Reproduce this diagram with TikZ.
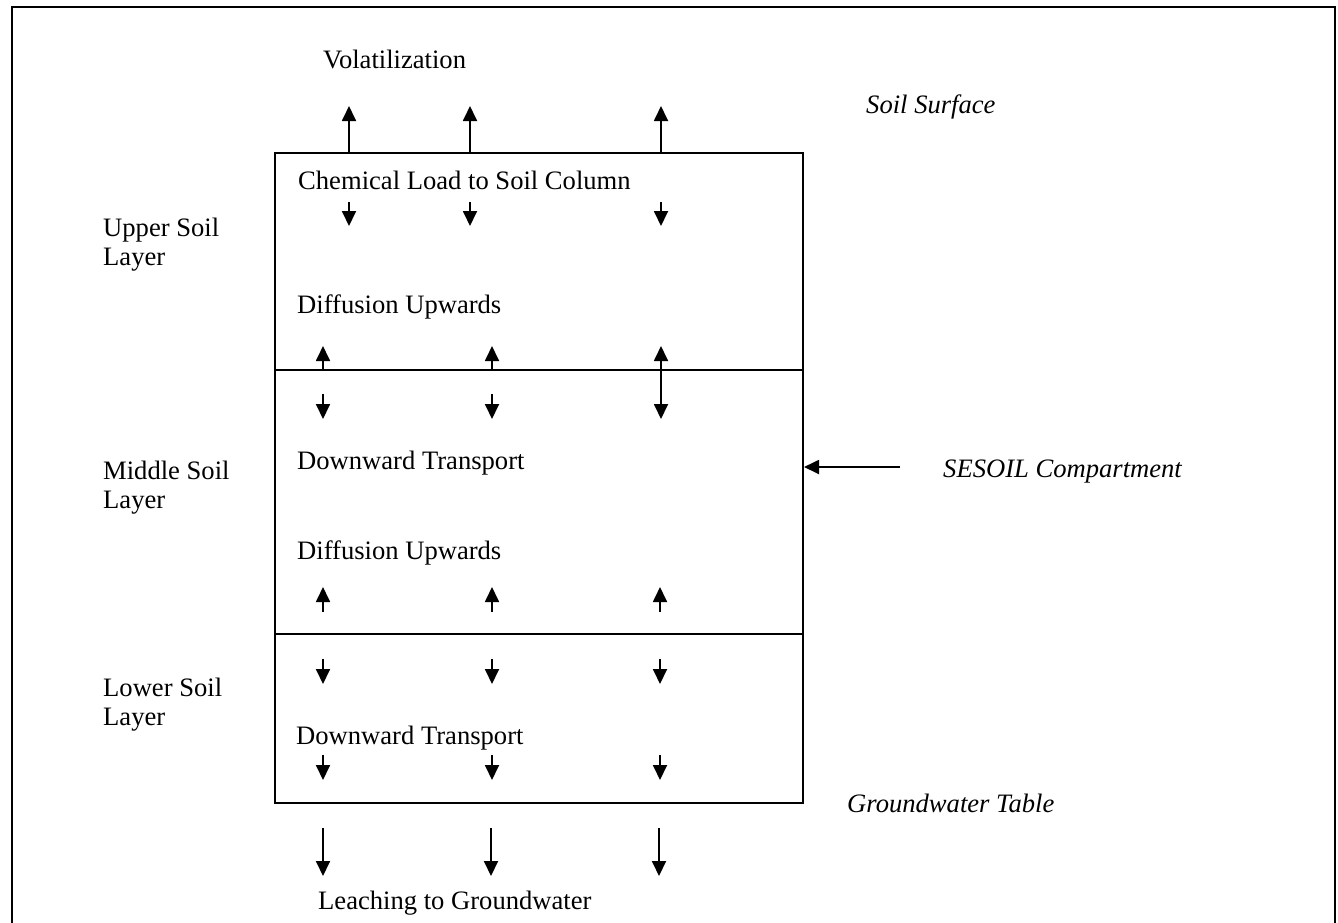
\documentclass[tikz,border=0pt]{standalone}
\usepackage{fontspec}
\setmainfont{Liberation Serif}
\usetikzlibrary{arrows.meta}
\begin{document}
\begin{tikzpicture}[x=1pt,y=-1pt,
  lbl/.style={anchor=base west,inner sep=0pt,font=\fontsize{26.6}{30}\selectfont},
  ilbl/.style={lbl,font=\fontsize{26.6}{30}\selectfont\itshape},
  arr/.style={line width=1.8pt,-{Triangle[length=15pt,width=14pt]}},
  darr/.style={line width=1.8pt,{Triangle[length=15pt,width=14pt]}-{Triangle[length=15pt,width=14pt]}},
  frame/.style={line width=2pt},
  boxline/.style={line width=2.5pt}]
\useasboundingbox (0,0) rectangle (1338,922);
% outer frame (open at bottom)
\draw[frame] (12,940) -- (12,7) -- (1335,7) -- (1335,940);
% soil column
\coordinate (tl) at (275,153);
\coordinate (br) at (803,803);
\draw[boxline] (tl) rectangle (br);
\draw[boxline] (275,370) -- (803,370);
\draw[boxline] (275,634) -- (803,634);
% labels
\node[lbl] (vol) at (323,68) {Volatilization};
\node[ilbl] (surf) at (866,113) {Soil Surface};
\node[lbl] (chem) at (298,189) {Chemical Load to Soil Column};
\node[lbl] (upper) at (103,236) {Upper Soil};
\node[lbl] (upper2) at (103,265) {Layer};
\node[lbl] (diff1) at (297,313) {Diffusion Upwards};
\node[lbl] (down1) at (297,469) {Downward Transport};
\node[lbl] (mid) at (103,479) {Middle Soil};
\node[lbl] (mid2) at (103,508) {Layer};
\node[ilbl] (ses) at (943,477) {SESOIL Compartment};
\node[lbl] (diff2) at (297,559) {Diffusion Upwards};
\node[lbl] (low) at (103,696) {Lower Soil};
\node[lbl] (low2) at (103,725) {Layer};
\node[lbl] (down2) at (296,744) {Downward Transport};
\node[ilbl] (gw) at (847,812) {Groundwater Table};
\node[lbl] (leach) at (318,909) {Leaching to Groundwater};
% SESOIL pointer
\coordinate (sesA) at (900,467);
\coordinate (sesB) at (804,467);
\draw[arr] (sesA) -- (sesB);
% volatilization arrows
\foreach \x in {349,470,661} \draw[arr] (\x,153) -- (\x,106);
% chemical load arrows
\foreach \x in {349,470,661} \draw[arr] (\x,202) -- (\x,226);
% diffusion upward across upper/middle boundary
\foreach \x in {323,492} \draw[arr] (\x,370) -- (\x,346);
\draw[darr] (661,346) -- (661,419);
\foreach \x in {323,492} \draw[arr] (\x,394) -- (\x,419);
% middle layer upward
\foreach \x in {323,492,660} \draw[arr] (\x,612) -- (\x,587);
% lower layer
\foreach \x in {323,492,660} \draw[arr] (\x,659) -- (\x,684);
\foreach \x in {323,492,660} \draw[arr] (\x,755) -- (\x,780);
% leaching
\foreach \x in {323,491,659} \draw[arr] (\x,828) -- (\x,876);
\end{tikzpicture}
\end{document}
